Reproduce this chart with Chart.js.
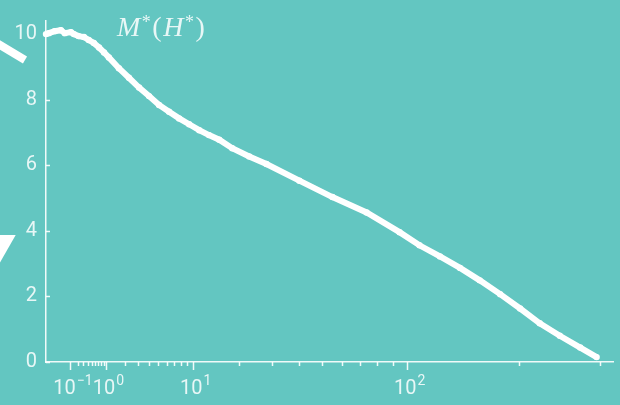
<!DOCTYPE html>
<html>
<head>
<meta charset="utf-8">
<script src="https://cdn.jsdelivr.net/npm/chart.js@4/dist/chart.umd.min.js"></script>
<style>
  html, body { margin: 0; padding: 0; background: #63c6c1; }
  #wrap { position: relative; width: 620px; height: 405px; }
  #title {
    position: absolute; left: 117px; top: 13px;
    font-family: "Liberation Serif", serif; font-size: 28px; line-height: 1;
    color: rgba(255,255,255,0.85); letter-spacing: 1.5px; white-space: nowrap;
  }
  #title i { font-style: italic; }
  #title sup { font-size: 18px; vertical-align: 8px; line-height: 0; }
</style>
</head>
<body>
<div id="wrap">
  <canvas id="myChart" width="620" height="405"></canvas>
  <div id="title"><i>M</i><sup>*</sup>(<i>H</i><sup>*</sup>)</div>
</div>
<script>
// H* values and M* values
const hValues = [0, 0.0004, 0.007, 0.028, 0.051, 0.105, 0.14, 0.21, 0.31, 0.42,
  0.56, 0.73, 0.92, 1.13, 1.65, 2.3, 3.09, 4.01, 5.09, 6.33,
  7.74, 9.32, 11.1, 13.0, 15.2, 18.3, 22.9, 28.2, 40.3, 55.2,
  73.7, 94.7, 109, 125, 142, 160, 180, 201, 223, 247, 273, 295];
const mValues = [10.0, 10.03, 10.09, 10.12, 10.03, 10.06, 10.0, 9.94, 9.91, 9.82,
  9.73, 9.59, 9.44, 9.29, 8.96, 8.67, 8.37, 8.11, 7.84, 7.63,
  7.43, 7.25, 7.07, 6.92, 6.78, 6.52, 6.27, 6.04, 5.53, 5.03,
  4.56, 3.96, 3.56, 3.22, 2.87, 2.49, 2.07, 1.63, 1.18, 0.80, 0.44, 0.15];

const majorTicks = [0.1, 1, 10, 100];
const majorExponents = ["\u22121", "0", "1", "2"];
const minorTicks = [0.2, 0.3, 0.4, 0.5, 0.6, 0.7, 0.8, 0.9,
  2, 3, 4, 5, 6, 7, 8, 9, 20, 30, 40, 50, 60, 70, 80, 90, 200, 300];
const yTicks = [0, 2, 4, 6, 8, 10];

const POW = 0.39;
const textColor = "rgba(255,255,255,0.85)";
const axisColor = "rgba(255,255,255,0.9)";

// x axis is stretched by a power law
class PowerScale extends Chart.LinearScale {
  static id = "power";
  static defaults = Chart.LinearScale.defaults;
  configure() {
    super.configure();
    this._pMin = Math.pow(Math.max(this.min, 0), POW);
    this._pMax = Math.pow(this.max, POW);
  }
  getPixelForValue(v) {
    const u = Math.pow(Math.max(v, 0), POW);
    return this.getPixelForDecimal((u - this._pMin) / (this._pMax - this._pMin));
  }
  getValueForPixel(p) {
    const d = this.getDecimalForPixel(p);
    return Math.pow(this._pMin + d * (this._pMax - this._pMin), 1 / POW);
  }
}
Chart.register(PowerScale);

const decoPlugin = {
  id: "deco",
  beforeDraw(chart) {
    const ctx = chart.ctx;
    ctx.save();
    ctx.fillStyle = "#63c6c1";
    ctx.fillRect(0, 0, chart.width, chart.height);
    ctx.strokeStyle = "#ffffff";
    ctx.lineWidth = 8;
    ctx.beginPath();
    ctx.moveTo(-30, 27);
    ctx.lineTo(25, 60);
    ctx.stroke();
    ctx.fillStyle = "#ffffff";
    ctx.beginPath();
    ctx.moveTo(-10, 235);
    ctx.lineTo(15.7, 235);
    ctx.lineTo(-10, 280);
    ctx.closePath();
    ctx.fill();
    ctx.restore();
  },
  afterDraw(chart) {
    const ctx = chart.ctx;
    const xs = chart.scales.x;
    const ys = chart.scales.y;
    ctx.save();
    ctx.strokeStyle = axisColor;
    ctx.lineWidth = 1.5;
    ctx.beginPath();
    majorTicks.forEach(v => {
      const px = Math.round(xs.getPixelForValue(v)) + 0.5;
      ctx.moveTo(px, xs.top);
      ctx.lineTo(px, xs.top + 8);
    });
    minorTicks.forEach(v => {
      const px = Math.round(xs.getPixelForValue(v)) + 0.5;
      ctx.moveTo(px, xs.top);
      ctx.lineTo(px, xs.top + 4);
    });
    yTicks.forEach(v => {
      const py = Math.round(ys.getPixelForValue(v)) + 0.5;
      ctx.moveTo(ys.right, py);
      ctx.lineTo(ys.right + 4, py);
    });
    ctx.stroke();

    // x tick labels: 10 with a raised exponent
    ctx.fillStyle = textColor;
    ctx.textBaseline = "alphabetic";
    ctx.textAlign = "left";
    majorTicks.forEach((v, i) => {
      const px = xs.getPixelForValue(v);
      ctx.font = "20px Roboto";
      const w1 = ctx.measureText("10").width;
      ctx.font = "14px Roboto";
      const w2 = ctx.measureText(majorExponents[i]).width;
      const start = px - (w1 + w2) / 2 + 2;
      ctx.font = "20px Roboto";
      ctx.fillText("10", start, 394);
      ctx.font = "14px Roboto";
      ctx.fillText(majorExponents[i], start + w1 + 1, 385);
    });
    ctx.restore();
  }
};

const data = hValues.map((h, i) => ({ x: h, y: mValues[i] }));

const ctx = document.getElementById("myChart").getContext("2d");
const myChart = new Chart(ctx, {
  type: "line",
  data: {
    datasets: [{
      data: data,
      borderColor: "#ffffff",
      backgroundColor: "#ffffff",
      borderWidth: 6,
      pointRadius: 3.2,
      pointBorderWidth: 0,
      pointHoverRadius: 0,
      tension: 0,
      clip: 6,
    }],
  },
  options: {
    responsive: false,
    animation: false,
    events: [],
    layout: { padding: { top: 10, right: 7, left: 0, bottom: 0 } },
    plugins: { legend: { display: false }, tooltip: { enabled: false } },
    scales: {
      x: {
        type: "power",
        min: 0,
        max: 318,
        grid: { display: false },
        border: { display: true, color: axisColor, width: 1.5 },
        ticks: { display: false },
        afterBuildTicks: (s) => { s.ticks = majorTicks.map(v => ({ value: v })); },
        afterFit: (s) => { s.height = 43; },
      },
      y: {
        type: "linear",
        min: 0,
        max: 10.4,
        grid: { display: false, drawTicks: false },
        border: { display: true, color: axisColor, width: 1.5 },
        ticks: {
          color: textColor,
          padding: 9,
          font: { family: "Roboto", size: 20 },
        },
        afterBuildTicks: (s) => { s.ticks = yTicks.map(v => ({ value: v })); },
        afterFit: (s) => { s.width = 46; },
      },
    },
  },
  plugins: [decoPlugin],
});
</script>
</body>
</html>
